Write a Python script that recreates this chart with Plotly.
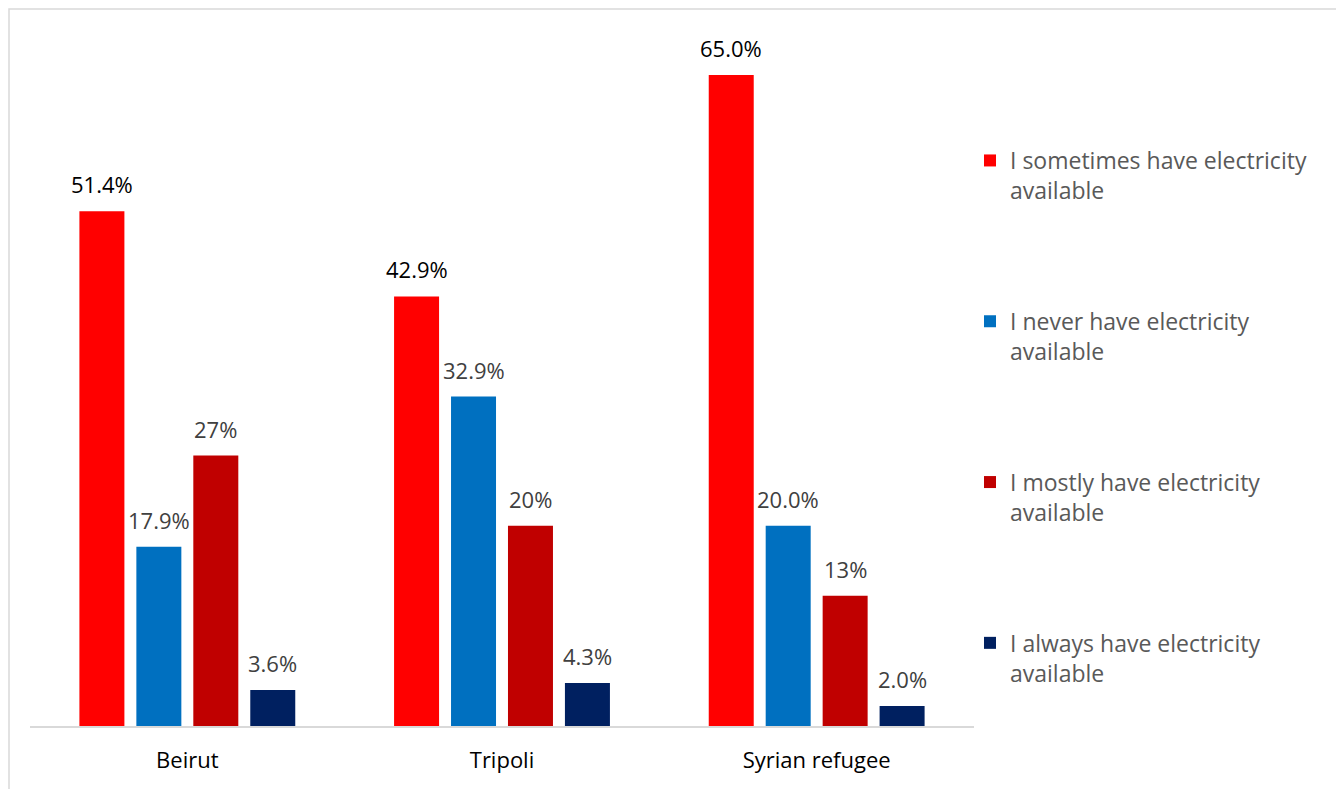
import plotly.graph_objects as go

categories = ["Beirut", "Tripoli", "Syrian refugee"]
series_names = [
    "I sometimes have electricity<br>available",
    "I never have electricity<br>available",
    "I mostly have electricity<br>available",
    "I always have electricity<br>available",
]
sometimes = [51.4, 42.9, 65.0]
never = [17.9, 32.9, 20.0]
mostly = [27.0, 20.0, 13.0]
always = [3.6, 4.3, 2.0]
series_values = [sometimes, never, mostly, always]
label_formats = ["{:.1f}%", "{:.1f}%", "{:.0f}%", "{:.1f}%"]

colors = ["#FF0000", "#0070C0", "#C00000", "#002060"]
label_colors = ["#000000", "#404040", "#404040", "#404040"]

FONT = "Open Sans"
fig = go.Figure()
for i, (name, vals) in enumerate(zip(series_names, series_values)):
    fig.add_trace(go.Bar(
        x=categories, y=vals, name=name, legendgroup=f"g{i}",
        marker=dict(color=colors[i], line=dict(width=0)),
    ))
    for c, v in zip(categories, vals):
        fig.add_annotation(
            x=c, y=v, xref="x", yref="y", text=label_formats[i].format(v),
            showarrow=False, xshift=(i - 1.5) * 57, yshift=10, yanchor="bottom",
            font=dict(family=FONT, size=22, color=label_colors[i]),
        )

# page has an 8px body margin; figure coordinates are page coordinates - 8
OFF = 8
W, H = 1344 - OFF, 789 - OFF
ml = 30 - OFF
mt = 25 - OFF
base = 726 - OFF
mb = H - base
mr = W - (974 - OFF)
pw, ph = W - ml - mr, H - mt - mb

def px_x(x):
    return (x - OFF - ml) / pw

def px_y(y):
    return (H - mb - (y - OFF)) / ph

fig.add_shape(type="rect", xref="paper", yref="paper",
              x0=px_x(9), x1=px_x(1337), y0=px_y(820), y1=px_y(9),
              line=dict(color="#D9D9D9", width=1.5), fillcolor="rgba(0,0,0,0)",
              layer="below")

fig.update_layout(
    width=W, height=H,
    margin=dict(l=ml, r=mr, t=mt, b=mb),
    paper_bgcolor="white", plot_bgcolor="white",
    barmode="group", bargap=0.276, bargroupgap=0.21,
    font=dict(family=FONT, color="#595959"),
    showlegend=True,
    legend=dict(
        x=px_x(970), y=px_y(139), xanchor="left", yanchor="top",
        font=dict(family=FONT, size=23, color="#595959"),
        tracegroupgap=98, valign="top", traceorder="grouped",
        itemwidth=30,
    ),
    xaxis=dict(
        showline=True, linecolor="#D9D9D9", linewidth=1.5,
        ticks="", showgrid=False, zeroline=False,
        tickfont=dict(family=FONT, size=22, color="#000000"),
        ticklabelstandoff=14,
    ),
    yaxis=dict(range=[0, 70], visible=False, showgrid=False, zeroline=False),
)

fig.write_html("out.html")
